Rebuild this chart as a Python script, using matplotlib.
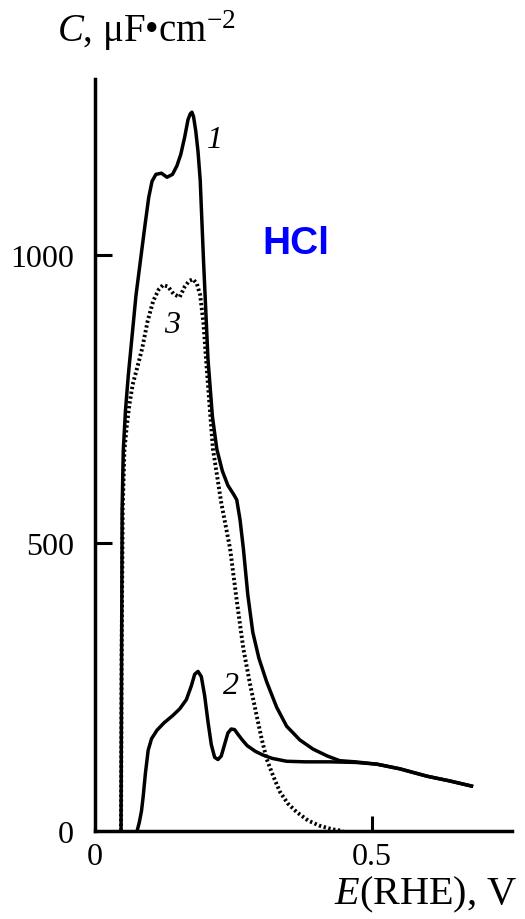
import numpy as np
import matplotlib
matplotlib.use('Agg')
import matplotlib.pyplot as plt

plt.rcParams['font.family'] = ['Liberation Serif', 'DejaVu Serif']
plt.rcParams['mathtext.fontset'] = 'custom'
plt.rcParams['mathtext.rm'] = 'Liberation Serif'
plt.rcParams['mathtext.it'] = 'Liberation Serif:italic'

# curve 1
E1 = [0.047, 0.048, 0.049, 0.051, 0.055, 0.060, 0.066, 0.074, 0.082, 0.090, 0.097,
      0.103, 0.110, 0.120, 0.130, 0.140, 0.148, 0.155, 0.162, 0.168, 0.172, 0.175,
      0.178, 0.182, 0.186, 0.190, 0.196, 0.204, 0.212, 0.220, 0.230, 0.240, 0.250,
      0.256, 0.262, 0.268, 0.276, 0.285, 0.296, 0.310, 0.328, 0.346, 0.370, 0.394,
      0.420, 0.442, 0.470, 0.509, 0.550, 0.600, 0.640, 0.680]
C1 = [0, 300, 560, 660, 730, 790, 850, 930, 990, 1050, 1100,
      1128, 1140, 1142, 1135, 1140, 1155, 1175, 1205, 1235, 1245, 1248,
      1240, 1215, 1180, 1130, 990, 820, 720, 663, 625, 600, 585,
      575, 540, 490, 410, 345, 300, 259, 215, 182, 158, 142,
      130, 122, 120, 116, 108, 95, 87, 78]

# curve 2
E2 = [0.076, 0.080, 0.084, 0.087, 0.091, 0.096, 0.102, 0.112, 0.125, 0.140, 0.153,
      0.165, 0.174, 0.180, 0.186, 0.192, 0.198, 0.204, 0.210, 0.216, 0.222, 0.228,
      0.234, 0.240, 0.246, 0.252, 0.258, 0.266, 0.275, 0.290, 0.303, 0.320, 0.346,
      0.380, 0.424, 0.470, 0.509, 0.550, 0.600, 0.640, 0.680]
C2 = [0, 15, 35, 60, 100, 140, 160, 175, 188, 200, 212,
      228, 252, 272, 277, 268, 235, 190, 150, 128, 124, 130,
      150, 170, 177, 176, 168, 158, 148, 138, 132, 126, 121,
      120, 120, 119, 116, 108, 95, 87, 78]

# curve 3 (dotted)
E3 = [0.047, 0.048, 0.050, 0.053, 0.057, 0.062, 0.068, 0.075, 0.085, 0.095, 0.105,
      0.115, 0.123, 0.132, 0.142, 0.153, 0.162, 0.170, 0.177, 0.184, 0.190, 0.196,
      0.202, 0.213, 0.228, 0.244, 0.256, 0.268, 0.280, 0.292, 0.301, 0.310, 0.322,
      0.334, 0.348, 0.364, 0.385, 0.406, 0.428, 0.448]
C3 = [0, 300, 560, 660, 700, 740, 775, 800, 837, 885, 920,
      940, 948, 945, 932, 927, 945, 955, 958, 950, 930, 880,
      800, 663, 570, 490, 400, 316, 255, 200, 160, 125, 95,
      68, 48, 33, 18, 9, 3, 0]

xticks = [0, 0.5]
xticklabels = ['0', '0.5']
yticks = [0, 500, 1000]

fig = plt.figure(figsize=(5.25, 9.2), dpi=100)
ax = fig.add_axes([0.181, 0.0957, 0.794, 0.817])

ax.plot(E1, C1, color='black', lw=2.5, solid_joinstyle='round')
ax.plot(E2, C2, color='black', lw=2.5, solid_joinstyle='round')
ax.plot(E3, C3, color='black', lw=2.8, linestyle=(0, (0.6, 0.65)))

ax.set_xlim(0, 0.753)
ax.set_ylim(0, 1305)
ax.set_xticks(xticks)
ax.set_xticklabels(xticklabels)
ax.set_yticks(yticks)

for s in ['top', 'right']:
    ax.spines[s].set_visible(False)
for s in ['left', 'bottom']:
    ax.spines[s].set_linewidth(2.5)

ax.tick_params(axis='y', direction='in', length=12, width=2.2, labelsize=23, pad=15)
ax.tick_params(axis='x', direction='in', length=11, width=2.2, labelsize=23, pad=8)
ax.xaxis.get_majorticklines()[0].set_visible(False)
ax.xaxis.get_majorticklines()[1].set_visible(False)
ax.yaxis.get_majorticklines()[0].set_visible(False)

ax.text(0.217, 1200, '1', fontsize=23, style='italic', ha='center', va='center')
ax.text(0.246, 252, '2', fontsize=23, style='italic', ha='center', va='center')
ax.text(0.139, 880, '3', fontsize=23, style='italic', ha='center', va='center')
ax.text(0.362, 1020, 'HCl', fontsize=28, fontweight='bold', color='#0000ff',
        family='Liberation Sans', ha='center', va='center')

fig.text(0.108, 1 - 31 / 920, r'$C$, μF•cm$^{-2}$', fontsize=28, ha='left', va='center')
fig.text(0.985, 1 - 895 / 920, r'$E$(RHE), V', fontsize=29, ha='right', va='center')

plt.savefig('out.png', dpi=100)
